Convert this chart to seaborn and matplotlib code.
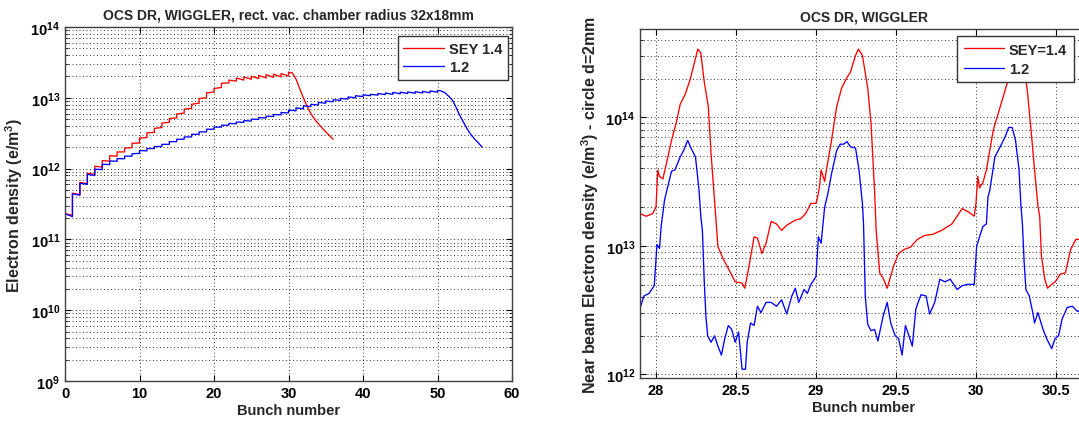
import numpy as np
import pandas as pd
import matplotlib
matplotlib.use("Agg")
import matplotlib.pyplot as plt
import seaborn as sns
from matplotlib.ticker import LogLocator, NullFormatter

# ---------------- data: left panel (whole train) ----------------
# density right after bunch b passes (b = 0..N) and just before bunch b+1
red_after = [2.3e11, 4.5e11, 6.4e11, 8.6e11, 1.08e12, 1.3e12, 1.52e12, 1.72e12, 1.95e12, 2.28e12,
             2.7e12, 3.2e12, 3.7e12, 4.4e12, 5.1e12, 5.9e12, 6.9e12, 8.1e12, 9.8e12, 1.18e13,
             1.35e13, 1.6e13, 1.78e13, 1.9e13, 1.97e13, 2.02e13, 2.07e13, 2.12e13, 2.15e13, 2.2e13,
             2.3e13]
red_before = [2.2e11, 4.3e11, 6.1e11, 8.3e11, 1.05e12, 1.27e12, 1.5e12, 1.72e12, 1.98e12, 2.3e12,
              2.75e12, 3.25e12, 3.8e12, 4.5e12, 5.2e12, 6.1e12, 7.1e12, 8.4e12, 1.0e13, 1.2e13,
              1.4e13, 1.62e13, 1.72e13, 1.78e13, 1.83e13, 1.87e13, 1.91e13, 1.95e13, 1.98e13, 2.03e13]
red_tail_x = [30.5, 31.0, 31.5, 32.0, 32.5, 33.0, 33.5, 34.0, 35.0, 36.0]
red_tail = [2.25e13, 1.85e13, 1.35e13, 1.0e13, 7.6e12, 6.0e12, 5.0e12, 4.3e12, 3.3e12, 2.6e12]

blue_after = [2.3e11, 4.4e11, 6.2e11, 8.3e11, 9.8e11, 1.15e12, 1.28e12, 1.38e12, 1.5e12, 1.62e12,
              1.8e12, 1.92e12, 2.05e12, 2.2e12, 2.4e12, 2.6e12, 2.8e12, 3.05e12, 3.3e12, 3.6e12,
              3.85e12, 4.1e12, 4.35e12, 4.55e12, 4.75e12, 5.0e12, 5.25e12, 5.5e12, 5.8e12, 6.2e12,
              6.7e12, 7.2e12, 7.7e12, 8.1e12, 8.6e12, 9.0e12, 9.4e12, 9.8e12, 1.03e13, 1.07e13,
              1.1e13, 1.12e13, 1.15e13, 1.17e13, 1.19e13, 1.2e13, 1.21e13, 1.22e13, 1.23e13, 1.25e13,
              1.27e13]
blue_before = [2.1e11, 4.2e11, 6.0e11, 8.0e11, 9.7e11, 1.14e12, 1.27e12, 1.38e12, 1.5e12, 1.64e12,
               1.78e12, 1.92e12, 2.05e12, 2.2e12, 2.4e12, 2.6e12, 2.8e12, 3.05e12, 3.3e12, 3.6e12,
               3.85e12, 4.1e12, 4.3e12, 4.5e12, 4.7e12, 4.95e12, 5.2e12, 5.45e12, 5.75e12, 6.1e12,
               6.55e12, 7.0e12, 7.5e12, 7.9e12, 8.4e12, 8.8e12, 9.2e12, 9.6e12, 1.0e13, 1.04e13,
               1.07e13, 1.09e13, 1.11e13, 1.12e13, 1.14e13, 1.15e13, 1.16e13, 1.17e13, 1.18e13, 1.2e13]
blue_tail_x = [50.5, 51.0, 51.5, 52.0, 52.5, 53.0, 53.5, 54.0, 54.5, 55.0, 55.5, 56.0]
blue_tail = [1.25e13, 1.18e13, 1.05e13, 9.3e12, 7.3e12, 5.6e12, 4.5e12, 3.6e12, 3.0e12, 2.6e12, 2.3e12, 2.0e12]

# ---------------- data: right panel (near-beam density, log10 values) ----------------
r_x = [27.90, 27.94, 27.978, 28.00, 28.011, 28.022, 28.043, 28.065, 28.097, 28.129, 28.151, 28.183,
       28.215, 28.247, 28.262, 28.280, 28.301, 28.327, 28.344, 28.366, 28.387, 28.419, 28.462, 28.495,
       28.538, 28.555, 28.581, 28.613, 28.634, 28.662, 28.688, 28.720, 28.753, 28.785, 28.817, 28.871,
       28.903, 28.935, 28.968, 29.000, 29.010, 29.022, 29.032, 29.054, 29.065, 29.097, 29.129, 29.161,
       29.194, 29.215, 29.247, 29.265, 29.290, 29.323, 29.344, 29.366, 29.376, 29.398, 29.419, 29.445,
       29.484, 29.516, 29.548, 29.591, 29.634, 29.677, 29.731, 29.785, 29.849, 29.914, 29.957, 29.989,
       30.000, 30.011, 30.022, 30.043, 30.065, 30.108, 30.151, 30.194, 30.237, 30.269, 30.301, 30.323,
       30.344, 30.366, 30.387, 30.398, 30.409, 30.430, 30.447, 30.473, 30.495, 30.527, 30.559, 30.591,
       30.624, 30.656]
r_log = [13.25, 13.23, 13.25, 13.30, 13.59, 13.54, 13.52, 13.64, 13.82, 13.97, 14.10, 14.18,
         14.30, 14.46, 14.53, 14.50, 14.28, 14.08, 13.72, 13.35, 12.995, 12.90, 12.80, 12.72,
         12.71, 12.67, 12.84, 13.07, 13.06, 12.94, 13.02, 13.19, 13.17, 13.12, 13.16, 13.20,
         13.21, 13.25, 13.33, 13.33, 13.38, 13.46, 13.59, 13.50, 13.59, 13.82, 14.08, 14.23,
         14.31, 14.35, 14.48, 14.53, 14.48, 14.23, 13.95, 13.43, 13.12, 12.79, 12.75, 12.67,
         12.84, 12.94, 12.97, 12.99, 13.05, 13.08, 13.09, 13.12, 13.17, 13.29, 13.26, 13.23,
         13.33, 13.54, 13.45, 13.49, 13.59, 13.90, 14.08, 14.26, 14.41, 14.53, 14.40, 14.18,
         13.90, 13.59, 13.31, 13.23, 12.92, 12.74, 12.67, 12.70, 12.72, 12.78, 12.79, 12.97,
         13.05, 13.05]
b_x = [27.899, 27.925, 27.957, 27.989, 28.006, 28.022, 28.032, 28.054, 28.097, 28.118, 28.151, 28.172,
       28.198, 28.215, 28.247, 28.269, 28.280, 28.290, 28.301, 28.312, 28.323, 28.344, 28.366, 28.387,
       28.409, 28.430, 28.452, 28.473, 28.495, 28.516, 28.538, 28.559, 28.570, 28.591, 28.613, 28.634,
       28.656, 28.688, 28.720, 28.753, 28.785, 28.817, 28.849, 28.871, 28.892, 28.925, 28.946, 28.968,
       29.000, 29.015, 29.032, 29.054, 29.075, 29.097, 29.129, 29.151, 29.172, 29.194, 29.215, 29.247,
       29.269, 29.290, 29.297, 29.308, 29.323, 29.344, 29.366, 29.387, 29.419, 29.445, 29.467, 29.495,
       29.516, 29.538, 29.559, 29.581, 29.602, 29.624, 29.656, 29.688, 29.710, 29.742, 29.774, 29.806,
       29.839, 29.882, 29.914, 29.946, 29.989, 30.004, 30.022, 30.043, 30.065, 30.075, 30.086, 30.118,
       30.151, 30.183, 30.204, 30.226, 30.247, 30.269, 30.280, 30.290, 30.301, 30.312, 30.333, 30.355,
       30.366, 30.387, 30.419, 30.441, 30.473, 30.495, 30.516, 30.538, 30.570, 30.602, 30.634, 30.656]
b_log = [12.51, 12.61, 12.63, 12.69, 13.01, 12.98, 13.15, 13.36, 13.58, 13.59, 13.69, 13.74,
         13.82, 13.77, 13.69, 13.43, 13.23, 13.12, 12.74, 12.45, 12.30, 12.25, 12.30, 12.22,
         12.15, 12.28, 12.38, 12.35, 12.25, 12.33, 12.04, 12.04, 12.25, 12.40, 12.38, 12.53,
         12.48, 12.56, 12.56, 12.53, 12.58, 12.47, 12.61, 12.67, 12.56, 12.66, 12.63, 12.70,
         12.76, 13.07, 13.02, 13.30, 13.41, 13.56, 13.74, 13.79, 13.79, 13.81, 13.77, 13.76,
         13.59, 13.33, 13.17, 12.61, 12.39, 12.34, 12.35, 12.26, 12.45, 12.56, 12.40, 12.30,
         12.28, 12.15, 12.38, 12.30, 12.22, 12.51, 12.62, 12.61, 12.47, 12.56, 12.74, 12.72,
         12.74, 12.66, 12.69, 12.70, 12.70, 12.995, 13.07, 13.15, 13.17, 13.38, 13.43, 13.69,
         13.77, 13.85, 13.92, 13.92, 13.82, 13.59, 13.33, 13.17, 12.87, 12.66, 12.61, 12.48,
         12.40, 12.48, 12.35, 12.28, 12.20, 12.28, 12.30, 12.43, 12.52, 12.53, 12.49, 12.50]

left_xticks = [0, 10, 20, 30, 40, 50, 60]
right_xticks = [28, 28.5, 29, 29.5, 30, 30.5]
right_xticklabels = ["28", "28.5", "29", "29.5", "30", "30.5"]


def train_curve(after, before, tail_x, tail_v):
    xs, ys = [], []
    for b in range(len(before)):
        xs += [b, b + 1]
        ys += [after[b], before[b]]
    xs.append(len(before))
    ys.append(after[len(before)])
    xs += list(tail_x)
    ys += list(tail_v)
    return pd.DataFrame({"bunch": xs, "density": ys})


left_red = train_curve(red_after, red_before, red_tail_x, red_tail)
left_blue = train_curve(blue_after, blue_before, blue_tail_x, blue_tail)
right_red = pd.DataFrame({"bunch": r_x, "density": 10.0 ** np.array(r_log)})
right_blue = pd.DataFrame({"bunch": b_x, "density": 10.0 ** np.array(b_log)})

# ---------------- style ----------------
sns.set_style("ticks")
plt.rcParams["font.family"] = ["Liberation Sans", "DejaVu Sans"]
plt.rcParams["font.weight"] = "bold"
plt.rcParams["axes.labelweight"] = "bold"
plt.rcParams["axes.titleweight"] = "bold"
plt.rcParams["mathtext.fontset"] = "custom"
plt.rcParams["mathtext.rm"] = "Liberation Sans:bold"
plt.rcParams["mathtext.it"] = "Liberation Sans:bold"
plt.rcParams["mathtext.bf"] = "Liberation Sans:bold"
plt.rcParams["mathtext.default"] = "rm"

FS = 10
TFS = 10.5
LFS = 11.5
fig = plt.figure(figsize=(10.79, 4.27), dpi=100)
fig.patch.set_facecolor("white")
ax1 = fig.add_axes([65 / 1079, 45 / 427, 447 / 1079, 354 / 427])
ax2 = fig.add_axes([640 / 1079, 48 / 427, 448 / 1079, 349 / 427])

grid_kw = dict(color="0.2", linestyle=(0, (1, 2.6)), linewidth=0.7)


def style_axes(ax):
    ax.set_yscale("log")
    ax.yaxis.set_major_locator(LogLocator(base=10, numticks=20))
    ax.yaxis.set_minor_locator(LogLocator(base=10, subs=np.arange(2, 10), numticks=50))
    ax.yaxis.set_minor_formatter(NullFormatter())
    ax.grid(True, which="major", axis="both", **grid_kw)
    ax.grid(True, which="minor", axis="y", **grid_kw)
    ax.tick_params(which="both", direction="in", top=True, right=True, labelsize=TFS, colors="black")
    ax.tick_params(which="major", length=4)
    ax.tick_params(which="minor", length=2)
    for s in ax.spines.values():
        s.set_color("0.25")
        s.set_linewidth(1.0)
    ax.set_facecolor("white")


# left panel
sns.lineplot(data=left_red, x="bunch", y="density", ax=ax1, color="#ff0000", lw=0.95,
             sort=False, estimator=None, label="SEY 1.4")
sns.lineplot(data=left_blue, x="bunch", y="density", ax=ax1, color="#0000ff", lw=0.95,
             sort=False, estimator=None, label="1.2")
style_axes(ax1)
ax1.set_xlim(0, 60)
ax1.set_ylim(1e9, 1e14)
ax1.set_xticks(left_xticks)
ax1.set_title("OCS DR, WIGGLER, rect. vac. chamber radius 32x18mm", fontsize=FS, pad=6)
ax1.set_xlabel("Bunch number", fontsize=10.5, labelpad=2)
ax1.set_ylabel("Electron density (e/m$^3$)", fontsize=LFS, labelpad=4)
leg1 = ax1.legend(loc="upper right", bbox_to_anchor=(1 - 4 / 447, 1 - 9 / 354), borderaxespad=0,
                  fancybox=False, framealpha=1, edgecolor="0.2", fontsize=10.5, handlelength=2.8,
                  handletextpad=0.3, borderpad=0.4, labelspacing=0.3)
leg1.get_frame().set_linewidth(1.0)

# right panel
sns.lineplot(data=right_red, x="bunch", y="density", ax=ax2, color="#ff0000", lw=0.95,
             sort=False, estimator=None, label="SEY=1.4")
sns.lineplot(data=right_blue, x="bunch", y="density", ax=ax2, color="#0000ff", lw=0.95,
             sort=False, estimator=None, label="1.2")
style_axes(ax2)
ax2.set_xlim(27.9, 30.7)
ax2.set_ylim(10 ** 11.972, 10 ** 14.686)
ax2.set_xticks(right_xticks, right_xticklabels)
ax2.set_title("OCS DR, WIGGLER", fontsize=FS, pad=6)
ax2.set_xlabel("Bunch number", fontsize=10.5, labelpad=2)
ax2.set_ylabel("Near beam Electron density (e/m$^3$) - circle d=2mm", fontsize=LFS, labelpad=3)
leg2 = ax2.legend(loc="upper left", bbox_to_anchor=((957 - 640) / 448, 342 / 349), borderaxespad=0,
                  fancybox=False, framealpha=1, edgecolor="0.2", fontsize=10.5, handlelength=2.8,
                  handletextpad=0.3, borderpad=0.45, labelspacing=0.35)
leg2.get_frame().set_linewidth(1.0)

fig.savefig("out.png", dpi=100, facecolor="white")
